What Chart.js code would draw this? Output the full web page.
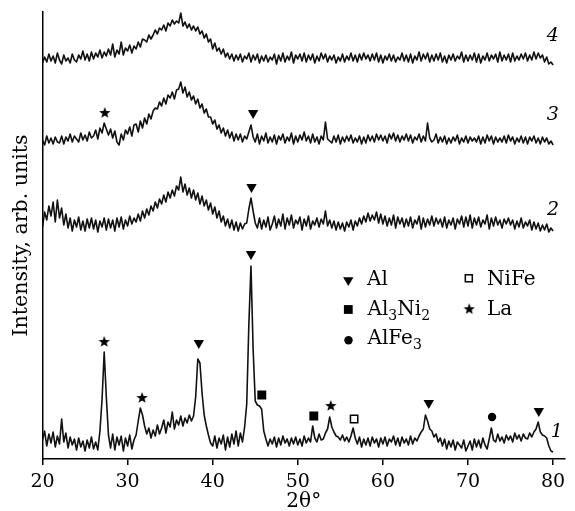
<!DOCTYPE html>
<html><head><meta charset="utf-8">
<script src="https://cdn.jsdelivr.net/npm/chart.js@4/dist/chart.umd.min.js"></script>
<style>html,body{margin:0;padding:0;background:#fff}#wrap{width:575px;height:511px;position:relative}</style>
</head><body><div id="wrap"><canvas id="c" width="575" height="511"></canvas></div>
<script>
// 2θ grid (degrees)
const twoTheta = [
20,20.25,20.5,20.75,21,21.25,21.5,21.75,22,22.25,22.5,22.75,23,23.25,23.5,23.75,24,24.25,24.5,24.75,
25,25.25,25.5,25.75,26,26.25,26.5,26.75,27,27.25,27.5,27.75,28,28.25,28.5,28.75,29,29.25,29.5,29.75,
30,30.25,30.5,30.75,31,31.25,31.5,31.75,32,32.25,32.5,32.75,33,33.25,33.5,33.75,34,34.25,34.5,34.75,
35,35.25,35.5,35.75,36,36.25,36.5,36.75,37,37.25,37.5,37.75,38,38.25,38.5,38.75,39,39.25,39.5,39.75,
40,40.25,40.5,40.75,41,41.25,41.5,41.75,42,42.25,42.5,42.75,43,43.25,43.5,43.75,44,44.25,44.5,44.75,
45,45.25,45.5,45.75,46,46.25,46.5,46.75,47,47.25,47.5,47.75,48,48.25,48.5,48.75,49,49.25,49.5,49.75,
50,50.25,50.5,50.75,51,51.25,51.5,51.75,52,52.25,52.5,52.75,53,53.25,53.5,53.75,54,54.25,54.5,54.75,
55,55.25,55.5,55.75,56,56.25,56.5,56.75,57,57.25,57.5,57.75,58,58.25,58.5,58.75,59,59.25,59.5,59.75,
60,60.25,60.5,60.75,61,61.25,61.5,61.75,62,62.25,62.5,62.75,63,63.25,63.5,63.75,64,64.25,64.5,64.75,
65,65.25,65.5,65.75,66,66.25,66.5,66.75,67,67.25,67.5,67.75,68,68.25,68.5,68.75,69,69.25,69.5,69.75,
70,70.25,70.5,70.75,71,71.25,71.5,71.75,72,72.25,72.5,72.75,73,73.25,73.5,73.75,74,74.25,74.5,74.75,
75,75.25,75.5,75.75,76,76.25,76.5,76.75,77,77.25,77.5,77.75,78,78.25,78.5,78.75,79,79.25,79.5,79.75,
80];

// Curve 1 (bottom, crystalline)
const curve1 = [
19,28,13,25, 16,27,12,23, 15,40,17,26, 11,22,14,20, 9,21,12,18,
8,19,11,22, 10,17,9,28, 60,107,62,24, 11,25,9,22, 14,23,8,21,
13,24,10,19, 24,38,51,44, 33,25,31,21, 29,23,34,25, 31,39,26,37,
32,47,30,39, 34,43,33,41, 36,44,38,43, 62,100,96,66, 44,33,24,16,
13,23,11,21, 15,24,9,22, 12,25,15,28, 13,26,17,32, 55,135,193,110,
58,54,53,50, 28,20,13,20, 15,22,12,21, 14,23,16,20, 13,21,15,22,
14,20,13,23, 16,21,17,33, 21,17,25,19, 20,26,30,42, 32,27,23,22,
19,24,18,22, 17,23,31,21, 15,22,12,20, 14,21,13,22, 16,20,12,21,
15,22,13,20, 17,23,14,21, 13,22,16,20, 14,23,15,21, 18,23,27,30,
44,38,30,28, 22,25,17,21, 13,20,10,18, 12,19,9,17, 14,11,19,8,
13,18,9,20, 12,19,11,21, 14,10,20,31, 19,17,25,18, 22,16,24,19,
23,17,26,20, 24,18,25,21, 20,26,22,27, 30,37,27,24, 23,21,13,8,
7];

// Curve 2
const curve2 = [
232,247,239,253, 243,257,237,259, 241,251,234,245, 231,241,228,239, 232,242,229,238,
228,240,231,241, 230,239,227,238, 232,241,229,240, 231,239,228,241, 232,242,230,239,
233,243,235,241, 237,245,238,248, 241,250,244,253, 248,257,251,260, 255,264,257,267,
261,269,263,273, 269,282,267,275, 264,271,261,269, 259,266,255,263, 253,259,249,256,
245,252,241,248, 237,243,233,240, 231,239,229,237, 228,236,230,235, 236,250,261,248,
236,231,241,230, 239,232,242,229, 235,243,231,240, 233,245,230,241, 234,244,231,239,
235,242,229,240, 233,243,230,238, 234,241,232,240, 235,248,233,239, 231,238,229,237,
230,236,228,237, 232,239,229,238, 233,241,235,243, 237,246,238,244, 239,247,236,245,
235,243,233,241, 234,244,231,242, 235,241,232,240, 233,242,231,239, 235,243,230,241,
232,240,234,243, 233,241,235,240, 232,242,231,239, 234,241,230,240, 235,243,232,242,
233,244,231,241, 234,242,232,239, 235,244,230,241, 233,242,234,239, 231,240,235,241,
234,239,230,238, 232,241,231,237, 233,239,229,237, 230,236,228,234, 229,235,227,231,
228];

// Curve 3
const curve3 = [
319,314,323,316, 321,315,322,317, 316,323,315,322, 318,325,317,323, 320,317,326,319,
324,318,327,321, 323,329,320,331, 326,336,330,324, 330,321,328,317, 314,325,319,329,
325,332,323,334, 335,327,338,331, 341,335,345,340, 348,351,350,357, 353,361,355,364,
361,367,360,369, 370,377,366,372, 362,367,359,363, 355,360,351,355, 346,350,342,342,
335,339,330,334, 326,331,323,329, 321,327,318,325, 319,325,317,323, 320,327,334,322,
317,325,315,323, 318,326,316,322, 317,324,315,323, 319,325,316,322, 318,326,315,323,
317,324,319,327, 318,323,316,325, 317,322,315,323, 319,337,320,318, 316,323,317,324,
315,322,317,323, 318,324,316,321, 317,323,315,322, 316,324,318,323, 317,325,319,324,
318,323,316,325, 320,326,318,324, 317,323,319,325, 318,324,316,322, 319,325,317,323,
318,336,321,317, 319,325,316,322, 317,323,315,321, 316,322,318,324, 315,321,317,323,
316,322,318,321, 317,323,315,322, 316,324,318,323, 315,322,317,321, 317,323,316,324,
318,322,315,321, 317,323,316,322, 315,322,318,323, 316,321,315,322, 317,321,315,318,
314];

// Curve 4 (top)
const curve4 = [
396,402,397,405, 398,403,396,406, 399,395,404,398, 401,396,405,399, 397,404,400,408,
399,405,398,407, 400,406,402,409, 401,407,403,410, 404,415,402,409, 405,417,404,411,
408,414,406,413, 410,417,412,420, 419,417,424,420, 424,429,425,431, 429,434,428,436,
433,439,435,438, 436,446,433,437, 431,435,429,433, 428,432,425,428, 421,425,417,420,
410,416,408,411, 405,410,402,406, 400,405,398,404, 399,405,397,403, 400,406,397,404,
399,405,396,403, 398,404,397,402, 399,405,395,404, 398,406,397,403, 399,407,396,404,
400,405,398,406, 397,404,399,405, 396,403,398,406, 400,405,397,403, 399,404,396,402,
398,405,397,403, 399,406,398,404, 397,405,399,406, 400,404,398,405, 399,406,397,404,
396,403,399,405, 398,404,397,402, 399,406,398,404, 397,405,396,403, 399,407,398,405,
400,406,397,404, 398,405,399,406, 397,403,396,404, 399,405,398,403, 400,407,397,404,
398,404,399,406, 397,405,396,403, 399,406,398,404, 400,405,397,407, 398,404,399,405,
397,406,398,403, 399,405,400,406, 398,404,399,407, 400,406,401,404, 397,402,395,397,
394];

// Phase markers [2θ, height]
const peaksAl = [[38.37,116],[44.5,205],[65.39,56],[78.32,48],[44.56,272],[44.75,346]];
const peaksAl3Ni2 = [[45.77,64],[51.88,43]];
const peaksAlFe3 = [[72.83,42]];
const peaksNiFe = [[56.62,40]];
const peaksLa = [[27.25,117],[31.7,61],[53.88,53],[27.32,346]];

const xTicks = [20,30,40,50,60,70,80];
const curveLabels = [['1',80.43,27],['2',80.0,249],['3',79.97,344],['4',79.97,423]];

const SERIF = '"DejaVu Serif", serif';

function makeStar(r){
  const s = Math.ceil(r*2+2);
  const c = document.createElement('canvas'); c.width = s; c.height = s;
  const g = c.getContext('2d'); g.fillStyle = '#000'; g.beginPath();
  for (let i=0;i<10;i++){ const a=-Math.PI/2+i*Math.PI/5; const rr=i%2?r*0.42:r; g.lineTo(s/2+rr*Math.cos(a), s/2+rr*Math.sin(a)); }
  g.closePath(); g.fill(); return c;
}
const starImg = makeStar(6);

const toXY = arr => twoTheta.map((x,i)=>({x, y: arr[i]}));
const toPts = arr => arr.map(p=>({x:p[0], y:p[1]}));

const lineDs = (arr) => ({type:'line', data: toXY(arr), borderColor:'#111', borderWidth:1.6, pointRadius:0, tension:0, fill:false, borderJoinStyle:'round'});
const markDs = (arr, style, r, fill, bw, rot) => ({type:'scatter', data: toPts(arr), pointStyle: style, pointRadius: r, pointBackgroundColor: fill, pointBorderColor:'#000', pointBorderWidth: bw, pointRotation: rot||0, showLine:false});

const legendPlugin = {
  id:'legendAndLabels',
  afterDraw(chart){
    const ctx = chart.ctx, xs = chart.scales.x, ys = chart.scales.y;
    ctx.save();
    ctx.fillStyle = '#000';
    ctx.font = 'italic 19px ' + SERIF;
    ctx.textAlign = 'center'; ctx.textBaseline = 'middle';
    curveLabels.forEach(l => ctx.fillText(l[0], xs.getPixelForValue(l[1]), ys.getPixelForValue(l[2])));
    ctx.textAlign = 'left'; ctx.textBaseline = 'alphabetic';
    const rows = [
      {sym:'tri', cx:348.3, cy:281.7, tx:367, ty:285, parts:[['Al',0]]},
      {sym:'sq', cx:348.3, cy:309.5, tx:367.5, ty:314.5, parts:[['Al',0],['3',1],['Ni',0],['2',1]]},
      {sym:'dot', cx:348.5, cy:340.2, tx:367.5, ty:343.5, parts:[['AlFe',0],['3',1]]},
      {sym:'osq', cx:468.8, cy:278.3, tx:487, ty:285, parts:[['NiFe',0]]},
      {sym:'star', cx:469.2, cy:309.2, tx:487, ty:314.5, parts:[['La',0]]}
    ];
    rows.forEach(r => {
      ctx.beginPath();
      if (r.sym==='tri'){ ctx.moveTo(r.cx-5.2, r.cy-4.4); ctx.lineTo(r.cx+5.2, r.cy-4.4); ctx.lineTo(r.cx, r.cy+4.4); ctx.closePath(); ctx.fill(); }
      else if (r.sym==='sq'){ ctx.fillRect(r.cx-4.4, r.cy-4.4, 8.8, 8.8); }
      else if (r.sym==='dot'){ ctx.arc(r.cx, r.cy, 4.2, 0, Math.PI*2); ctx.fill(); }
      else if (r.sym==='osq'){ ctx.lineWidth=1.5; ctx.strokeStyle='#000'; ctx.strokeRect(r.cx-3.5, r.cy-3.5, 7, 7); }
      else if (r.sym==='star'){ ctx.drawImage(starImg, r.cx-starImg.width/2, r.cy-starImg.height/2); }
      let x = r.tx;
      r.parts.forEach(p => {
        ctx.font = (p[1] ? '14px ' : '20px ') + SERIF;
        ctx.fillText(p[0], x, r.ty + (p[1] ? 5 : 0));
        x += ctx.measureText(p[0]).width;
      });
    });
    ctx.restore();
  }
};

new Chart(document.getElementById('c'), {
  data: {
    datasets: [
      lineDs(curve1), lineDs(curve2), lineDs(curve3), lineDs(curve4),
      markDs(peaksAl, 'triangle', 6, '#000', 0, 180),
      markDs(peaksAl3Ni2, 'rect', 6.3, '#000', 0),
      markDs(peaksAlFe3, 'circle', 4.2, '#000', 0),
      markDs(peaksNiFe, 'rect', 5.2, '#fff', 1.5),
      markDs(peaksLa, starImg, 6, '#000', 0)
    ]
  },
  options: {
    responsive:false, animation:false, devicePixelRatio:1,
    layout:{padding:{top:12,right:10,left:0,bottom:0}},
    plugins:{legend:{display:false}, tooltip:{enabled:false}},
    scales:{
      x:{type:'linear', min:20, max:81.4,
        afterBuildTicks: s => { s.ticks = xTicks.map(v => ({value:v})); },
        afterFit: s => { s.height = 52; },
        ticks:{font:{family:SERIF, size:19}, color:'#000', padding:6, maxRotation:0, autoSkip:false, callback: v => String(v)},
        grid:{drawOnChartArea:false, drawTicks:true, tickLength:6, color:'#000', lineWidth:1.5},
        border:{display:true, color:'#000', width:1.5},
        title:{display:true, text:'2θ°', font:{family:SERIF, size:20}, color:'#000', padding:{top:0,bottom:-3}}
      },
      y:{type:'linear', min:0, max:447,
        afterFit: s => { s.width = 42.5; },
        ticks:{display:false},
        grid:{display:false, drawTicks:false},
        border:{display:true, color:'#000', width:1.5},
        title:{display:true, text:'Intensity, arb. units', font:{family:SERIF, size:20.5}, color:'#000', padding:{top:9,bottom:0}}
      }
    }
  },
  plugins:[legendPlugin]
});
</script></body></html>
